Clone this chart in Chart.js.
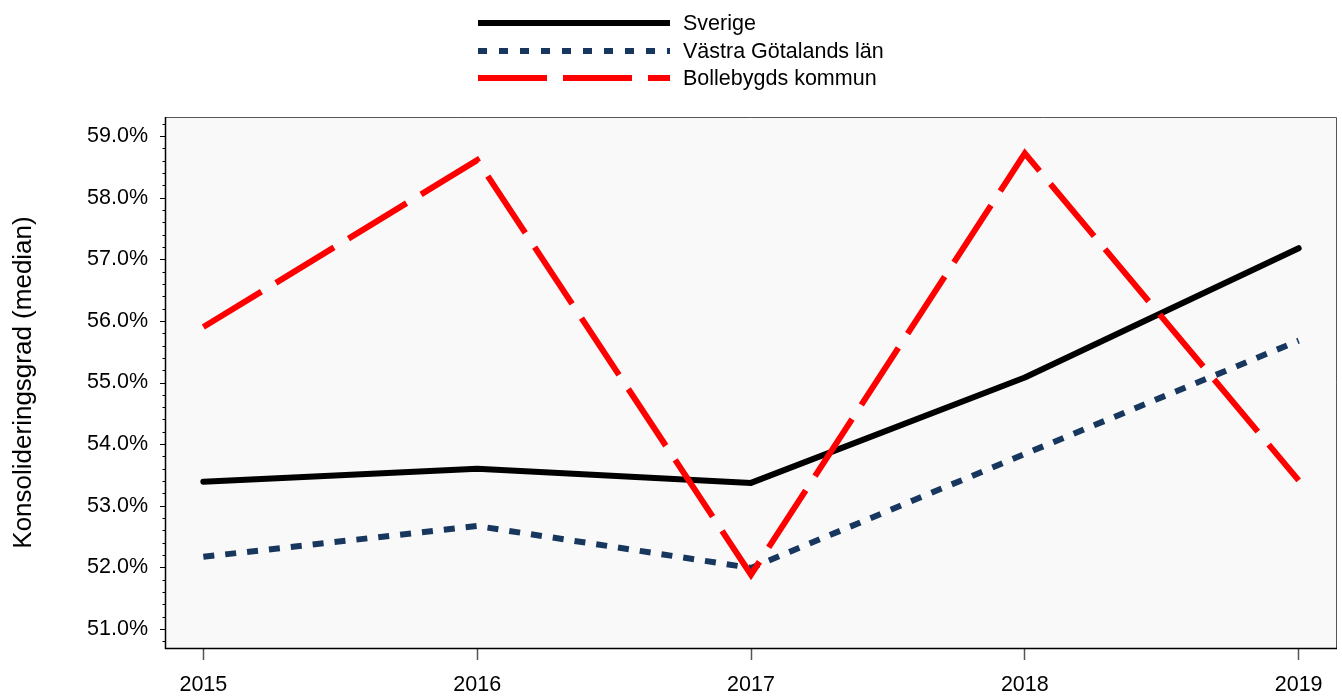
<!DOCTYPE html>
<html>
<head>
<meta charset="utf-8">
<script src="https://cdn.jsdelivr.net/npm/chart.js@4/dist/chart.umd.min.js"></script>
<style>
  html, body { margin: 0; padding: 0; background: #ffffff; }
  #wrap { width: 1342px; height: 698px; position: relative; }
</style>
</head>
<body>
<div id="wrap"><canvas id="c" width="1342" height="698"></canvas></div>
<script>
const years = ['2015', '2016', '2017', '2018', '2019'];
const sverige = [53.39, 53.60, 53.37, 55.08, 57.18];
const vastra = [52.17, 52.67, 51.99, 53.84, 55.68];
const bollebygd = [55.90, 58.61, 51.88, 58.72, 53.41];
const seriesNames = ['Sverige', 'Västra Götalands län', 'Bollebygds kommun'];
const yTickMin = 51, yTickMax = 59;

const FONT = 'Arial, "Liberation Sans", sans-serif';
const FS = 21.5;
const toPts = vals => vals.map((v, i) => ({ x: i, y: v }));

const bgPlugin = {
  id: 'bgPlugin',
  beforeDraw(chart) {
    const { ctx, chartArea: a } = chart;
    ctx.save();
    ctx.fillStyle = '#f9f9f9';
    ctx.fillRect(a.left, a.top, a.right - a.left, a.bottom - a.top);
    ctx.restore();
  },
  afterDatasetsDraw(chart) {
    const { ctx, chartArea: a, scales } = chart;
    ctx.save();
    ctx.strokeStyle = '#555555';
    ctx.lineWidth = 1;
    ctx.beginPath();
    ctx.moveTo(a.left, a.top + 0.5);
    ctx.lineTo(a.right - 0.5, a.top + 0.5);
    ctx.lineTo(a.right - 0.5, a.bottom);
    ctx.stroke();
    ctx.strokeStyle = '#000000';
    ctx.lineWidth = 1.5;
    ctx.beginPath();
    ctx.moveTo(a.left + 0.5, a.top);
    ctx.lineTo(a.left + 0.5, a.bottom + 0.5);
    ctx.lineTo(a.right, a.bottom + 0.5);
    ctx.stroke();
    const y = scales.y;
    ctx.strokeStyle = '#000000';
    ctx.lineWidth = 1;
    for (let k = Math.ceil(y.min * 5); k <= Math.floor(y.max * 5); k++) {
      const v = k / 5;
      const py = Math.round(y.getPixelForValue(v)) + 0.5;
      const major = Math.abs(v - Math.round(v)) < 1e-6;
      const len = major ? 5 : 2.5;
      ctx.beginPath();
      ctx.moveTo(a.left - len, py);
      ctx.lineTo(a.left, py);
      ctx.stroke();
    }
    ctx.restore();
  },
  afterDraw(chart) {
    const { ctx } = chart;
    const ds = chart.data.datasets;
    ctx.save();
    ctx.font = FS + 'px ' + FONT;
    ctx.textBaseline = 'middle';
    ctx.fillStyle = '#000';
    const x0 = 478, x1 = 670, tx = 683;
    const rows = [23, 51, 78];
    [0, 1, 2].forEach((i, r) => {
      const d = ds[i];
      ctx.save();
      ctx.strokeStyle = d.borderColor;
      ctx.lineWidth = d.borderWidth;
      ctx.lineCap = 'butt';
      ctx.setLineDash(d.legendDash || []);
      ctx.beginPath();
      ctx.moveTo(x0, rows[r]);
      ctx.lineTo(x1, rows[r]);
      ctx.stroke();
      ctx.restore();
      ctx.fillText(d.label, tx, rows[r] + 1);
    });
    ctx.restore();
  }
};

new Chart(document.getElementById('c'), {
  type: 'line',
  data: {
    datasets: [
      {
        label: seriesNames[0], data: toPts(sverige),
        borderColor: '#000000', borderWidth: 6, borderCapStyle: 'round', borderJoinStyle: 'round',
        pointRadius: 0, tension: 0, order: 1, legendDash: []
      },
      {
        label: seriesNames[1], data: toPts(vastra),
        borderColor: '#17375e', borderWidth: 6, borderDash: [11, 11], borderCapStyle: 'butt',
        pointRadius: 0, tension: 0, order: 2, legendDash: [9, 12]
      },
      {
        label: seriesNames[2], data: toPts(bollebygd),
        borderColor: '#ff0000', borderWidth: 6, borderDash: [68, 17], borderCapStyle: 'butt',
        pointRadius: 0, tension: 0, order: 0, legendDash: [69, 16]
      }
    ]
  },
  options: {
    responsive: false,
    animation: false,
    devicePixelRatio: 1,
    layout: { padding: { top: 117, right: 5, left: 0, bottom: 0 } },
    plugins: { legend: { display: false }, tooltip: { enabled: false } },
    scales: {
      x: {
        type: 'linear', min: -0.14, max: 4.14,
        grid: { drawOnChartArea: false, drawTicks: true, tickLength: 12, tickColor: '#555555', tickWidth: 1.5 },
        border: { display: false },
        ticks: {
          stepSize: 1, includeBounds: false, padding: 12, color: '#000',
          font: { family: FONT, size: FS }, maxRotation: 0,
          callback: v => years[v] !== undefined ? years[v] : ''
        },
        afterFit: s => { s.height = 50; }
      },
      y: {
        type: 'linear', min: 50.69, max: 59.31,
        grid: { drawOnChartArea: false, drawTicks: false },
        border: { display: false },
        ticks: {
          stepSize: 1, includeBounds: false, padding: 17, color: '#000',
          font: { family: FONT, size: FS },
          callback: v => (v >= yTickMin && v <= yTickMax) ? v.toFixed(1) + '%' : ''
        },
        title: {
          display: true, text: 'Konsolideringsgrad (median)', color: '#000',
          font: { family: FONT, size: 26 }, padding: { top: 8, bottom: 0 }
        },
        afterFit: s => { s.width = 165; }
      }
    }
  },
  plugins: [bgPlugin]
});
</script>
</body>
</html>
